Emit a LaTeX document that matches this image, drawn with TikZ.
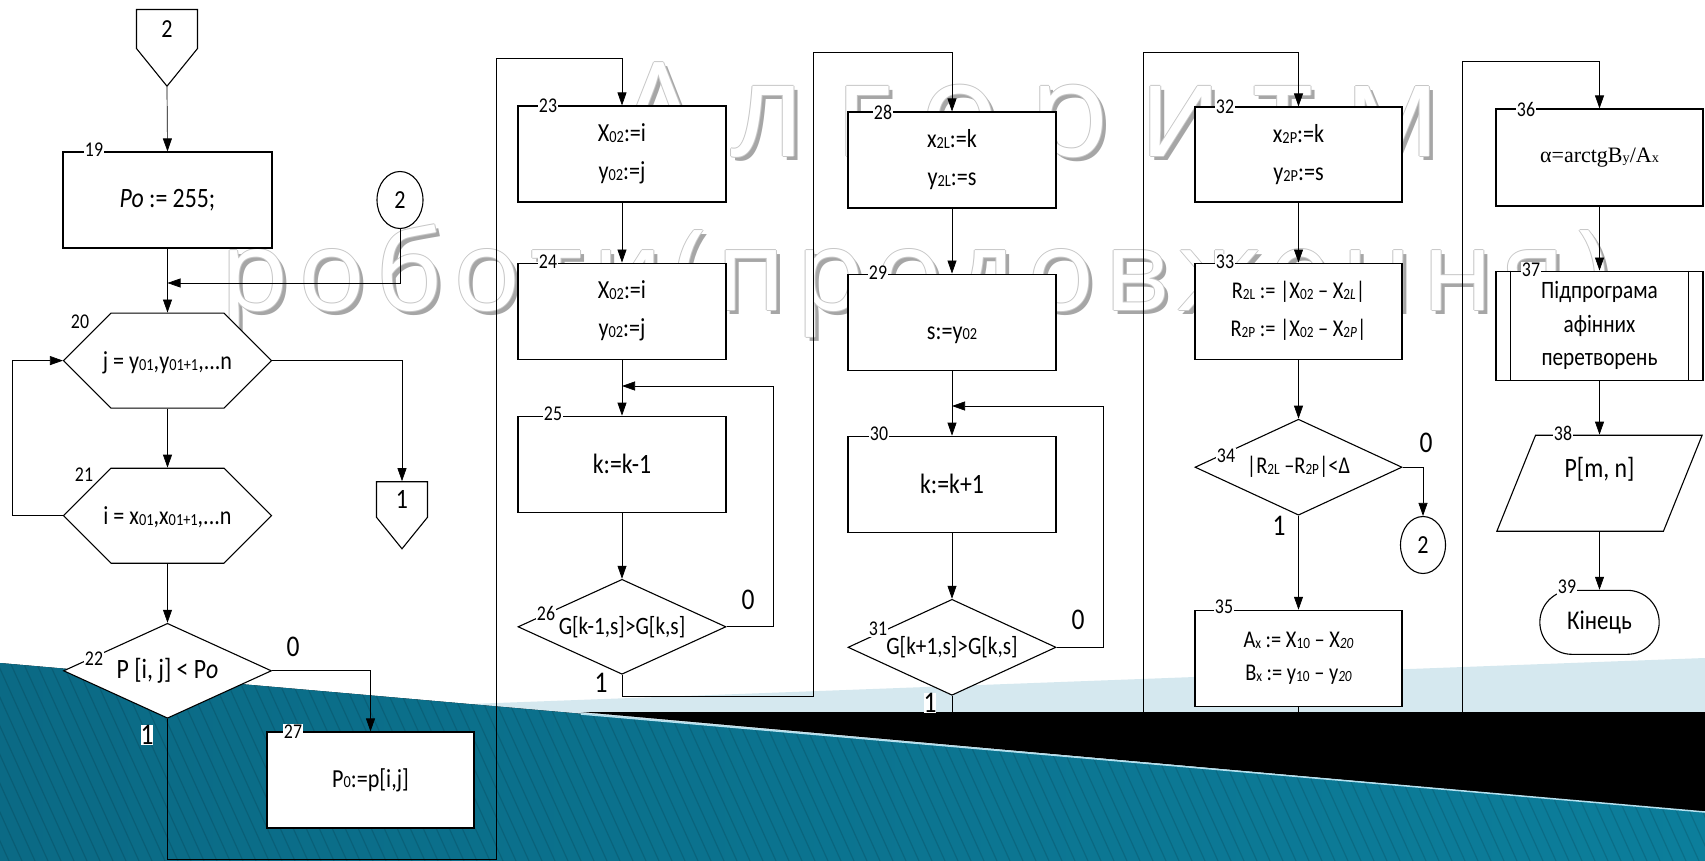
\documentclass[tikz,border=0pt]{standalone}
\usepackage{fontspec}
\setmainfont{Carlito}[FakeStretch=0.85]
\newfontfamily\wmfont{Open Sans}
\newfontfamily\timesfont{Liberation Serif}
\usetikzlibrary{arrows.meta,positioning,shapes.geometric,shapes.misc,shapes.symbols,calc}
\definecolor{tealdark}{HTML}{0B6A85}
\definecolor{teallight}{HTML}{45B4D6}
\definecolor{tealright}{HTML}{0C7E9B}
\definecolor{bandlight}{HTML}{D5E8EF}
\newcommand{\lowidx}[1]{\raisebox{-0.6pt}{\scalebox{0.65}{#1}}}

\begin{document}
\begin{tikzpicture}[x=1pt, y=-1pt,
    font=\fontsize{26}{38}\selectfont,
    node distance=60pt,
    box/.style={rectangle, draw, line width=1.1pt, fill=white,
                minimum width=208pt, minimum height=96pt, align=center, inner sep=2pt},
    narrowbox/.style={box, minimum width=207pt},
    hexa/.style={chamfered rectangle, chamfered rectangle xsep=31pt,
                 chamfered rectangle ysep=47.5pt, draw, line width=1.1pt, fill=white,
                 minimum width=208pt, minimum height=95pt, inner sep=0pt,
                 text height=0pt, text depth=0pt},
    decision/.style={diamond, aspect=2.2, draw, line width=1.1pt, fill=white,
                     minimum width=208pt, minimum height=95pt, inner sep=0pt},
    offpage/.style={signal, signal to=south, signal from=nowhere, signal pointer angle=78,
                    draw, line width=1.1pt, fill=white, inner sep=0pt},
    onpage/.style={ellipse, draw, line width=1.1pt, fill=white, inner sep=0pt},
    num/.style={fill=white, inner sep=1pt, font=\fontsize{21}{21}\selectfont},
    branch/.style={inner sep=0pt, font=\fontsize{30}{30}\selectfont},
    wmtext/.style={inner sep=0pt, anchor=base west},
    arr/.style={-{Triangle[length=13pt,width=9pt]}, line width=0.7pt},
    conn/.style={line width=0.7pt},
]
    \useasboundingbox (0,0) rectangle (1705,861);
    % slide background
    \fill[white] (0,0) rectangle (1705,861);
    \fill[bandlight] (470,704) -- (1705,658) -- (1705,812) -- cycle;
    \fill[black] (581,712) -- (1705,712) -- (1705,812) -- cycle;
    \fill[left color=tealdark, middle color=teallight, right color=tealright]
        (0,663) -- (1705,812) -- (1705,861) -- (0,861) -- cycle;
    \begin{scope}
        \clip (0,663) -- (1705,812) -- (1705,861) -- (0,861) -- cycle;
        \foreach \k in {-20,...,135}
            \draw[black, opacity=0.12, line width=1.2pt] (\k*13,640) -- ++(100,221);
    \end{scope}
    \draw[teallight!40!white, line width=1.5pt] (581,714) -- (1705,812);

    % title watermark
    \foreach \dx/\dy/\c [count=\i] in {4/4/black!35, -1/0/black!22, 1/0/black!22,
                                        0/-1/black!22, 0/1/black!22, 0/0/white} {
        \node[wmtext, text=\c, shift={(\dx,\dy)},
              font={\wmfont\fontsize{131}{131}\selectfont\addfontfeature{LetterSpace=23}}]
              (wmA\i) at (617,157) {Алгоритм};
        \node[wmtext, text=\c, shift={(\dx,\dy)},
              font={\wmfont\fontsize{112}{112}\selectfont\addfontfeature{LetterSpace=9}}]
              (wmB\i) at (220,310) {роботи(продовження)};
    }

    % left column
    \node[offpage, minimum width=61pt, minimum height=46pt] (c2a) at (167,29) {2};
    \node[box, minimum width=209pt, font=\fontsize{28}{28}\selectfont] (b19) at (167.5,200)
        {{\itshape Po} := 255;};
    \node[hexa, below=64pt of b19] (h20) {\raisebox{-9pt}{j = y\lowidx{01},y\lowidx{01+1},...n}};
    \node[hexa, below=59pt of h20] (h21) {\raisebox{-9pt}{i = x\lowidx{01},x\lowidx{01+1},...n}};
    \node[decision, below=59pt of h21, font=\fontsize{28}{28}\selectfont] (d22) {P [i, j] < P\textit{o}};
    \node[box, minimum width=207pt] (b27) at (370.5,780) {P\lowidx{0}:=p[i,j]};
    \node[onpage, minimum width=46pt, minimum height=57pt] (c2b) at (400,200) {2};
    \node[offpage, minimum width=51pt, minimum height=43pt, font=\fontsize{28}{28}\selectfont] (off1) at (402,499.5) {1};

    % second column
    \node[box] (b23) at (622,154) {X\lowidx{02}:=i\\y\lowidx{02}:=j};
    \node[box, below=60pt of b23] (b24) {X\lowidx{02}:=i\\y\lowidx{02}:=j};
    \node[box, below=56pt of b24, font=\fontsize{28}{38}\selectfont] (b25) {k:=k-1};
    \node[decision, below=66pt of b25, font=\fontsize{25}{25}\selectfont] (d26) {G[k-1,s]>G[k,s]};

    % third column
    \node[box] (b28) at (952,160) {x\lowidx{2L}:=k\\y\lowidx{2L}:=s};
    \node[box, below=65pt of b28] (b29) {\mbox{}\\s:=y\lowidx{02}};
    \node[box, below=65pt of b29, font=\fontsize{28}{38}\selectfont] (b30) {k:=k+1};
    \node[decision, below=66pt of b30, minimum height=96pt, font=\fontsize{25}{25}\selectfont] (d31) {G[k+1,s]>G[k,s]};

    % fourth column
    \node[narrowbox, minimum height=95pt] (b32) at (1298.5,154.5) {x\lowidx{2P}:=k\\y\lowidx{2P}:=s};
    \node[narrowbox, below=60pt of b32, font=\fontsize{24}{38}\selectfont] (b33)
        {R\lowidx{2L} := |X\lowidx{02} – X\lowidx{2\textit{L}}|\\R\lowidx{2P} := |X\lowidx{02} – X\lowidx{2\textit{P}}|};
    \node[decision, below=59pt of b33, minimum width=207pt, minimum height=96pt,
          font=\fontsize{24}{24}\selectfont] (d34) {|R\lowidx{2L} –R\lowidx{2P}|<Δ};
    \node[narrowbox, below=94pt of d34, font=\fontsize{24}{33}\selectfont] (b35)
        {A\lowidx{x} := X\lowidx{10} – X\lowidx{\textit{20}}\\B\lowidx{x} := y\lowidx{10} – y\lowidx{\textit{20}}};
    \node[onpage, minimum width=45pt, minimum height=57pt] (c2c) at (1423,545) {2};

    % fifth column
    \node[narrowbox, minimum height=97pt, font=\timesfont\fontsize{22}{22}\selectfont] (b36) at (1599.5,157.5)
        {α=arctgB\lowidx{y}/A\lowidx{x}};
    \node[narrowbox, below=64pt of b36, minimum height=109pt, font=\fontsize{25}{33.5}\selectfont] (b37)
        {Підпрограма\\афінних\\перетворень};
    \draw[line width=1.1pt] ($(b37.north west)+(15,0)$) -- ($(b37.south west)+(15,0)$);
    \draw[line width=1.1pt] ($(b37.north east)+(-15,0)$) -- ($(b37.south east)+(-15,0)$);
    \node[trapezium, trapezium left angle=68, trapezium right angle=112, draw, line width=1.1pt,
          fill=white, minimum width=191pt, minimum height=96pt, inner sep=0pt, align=center,
          below=54pt of b37, font=\fontsize{28}{32}\selectfont] (p38) {P[m, n]\\\mbox{}};
    \node[rounded rectangle, draw, line width=1.1pt, fill=white, minimum width=126pt,
          minimum height=64pt, below=58pt of p38, font=\fontsize{27}{27}\selectfont] (t39) {Кінець};

    % junction points and free ends
    \coordinate (j20) at (b19.south |- 0,283);
    \coordinate (j25) at (b25.north |- 0,386);
    \coordinate (j30) at (b30.north |- 0,406);
    \coordinate (e31) at (d31.south |- 0,712);
    \coordinate (e35) at (b35.south |- 0,712);
    \coordinate (in32) at (1143.5,712);
    \coordinate (in36) at (1462.5,712);

    % connectors
    \draw[arr] (c2a.south) -- (b19.north);
    \draw[arr] (b19.south) -- (h20.north);
    \draw[arr] (c2b.south) |- (j20);
    \draw[arr] (h20.east) -| (off1.north);
    \draw[arr] (h20.south) -- (h21.north);
    \draw[arr] (h21.west) -- ++(-51,0) |- (h20.west);
    \draw[arr] (h21.south) -- (d22.north);
    \draw[arr] (d22.east) -| (b27.north);
    \draw[arr] (d22.south) |- (496,859) -- (496,58) -| (b23.north);
    \draw[arr] (b23.south) -- (b24.north);
    \draw[arr] (b24.south) -- (b25.north);
    \draw[arr] (b25.south) -- (d26.north);
    \draw[arr] (d26.east) -| (773,386) -- (j25);
    \draw[arr] (d26.south) |- (813,696) -- (813,52) -| (b28.north);
    \draw[arr] (b28.south) -- (b29.north);
    \draw[arr] (b29.south) -- (b30.north);
    \draw[arr] (b30.south) -- (d31.north);
    \draw[arr] (d31.east) -| (1103,406) -- (j30);
    \draw[conn] (d31.south) -- (e31);
    \draw[arr] (in32) -- (1143.5,52) -| (b32.north);
    \draw[arr] (b32.south) -- (b33.north);
    \draw[arr] (b33.south) -- (d34.north);
    \draw[arr] (d34.east) -| (c2c.north);
    \draw[arr] (d34.south) -- (b35.north);
    \draw[conn] (b35.south) -- (e35);
    \draw[arr] (in36) -- (1462.5,61) -| (b36.north);
    \draw[arr] (b36.south) -- (b37.north);
    \draw[arr] (b37.south) -- (p38.north);
    \draw[arr] (p38.south) -- (t39.north);

    % block numbers
    \node[num] (n19) at (94,150) {19};
    \node[num] (n20) at (80,322) {20};
    \node[num] (n21) at (84,475) {21};
    \node[num] (n22) at (94,659) {22};
    \node[num] (n27) at (293,732) {27};
    \node[num] (n23) at (548,106) {23};
    \node[num] (n24) at (548,262) {24};
    \node[num] (n25) at (553,414) {25};
    \node[num] (n26) at (546,613) {26};
    \node[num] (n28) at (883,112) {28};
    \node[num] (n29) at (878,273) {29};
    \node[num] (n30) at (879,434) {30};
    \node[num] (n31) at (878,629) {31};
    \node[num] (n32) at (1225,107) {32};
    \node[num] (n33) at (1225,262) {33};
    \node[num] (n34) at (1226,456) {34};
    \node[num] (n35) at (1224,607) {35};
    \node[num] (n36) at (1526,109) {36};
    \node[num] (n37) at (1531,270) {37};
    \node[num] (n38) at (1563,433) {38};
    \node[num] (n39) at (1567,587) {39};

    % branch labels
    \node[branch] (y22) at (293,647) {0};
    \node[branch, fill=white] (x22) at (147,735) {1};
    \node[branch] (y26) at (748,600) {0};
    \node[branch] (x26) at (601,683) {1};
    \node[branch] (y31) at (1078,620) {0};
    \node[branch, fill=white] (x31) at (930,703) {1};
    \node[branch] (y34) at (1426,443) {0};
    \node[branch] (x34) at (1279,526) {1};
\end{tikzpicture}
\end{document}
